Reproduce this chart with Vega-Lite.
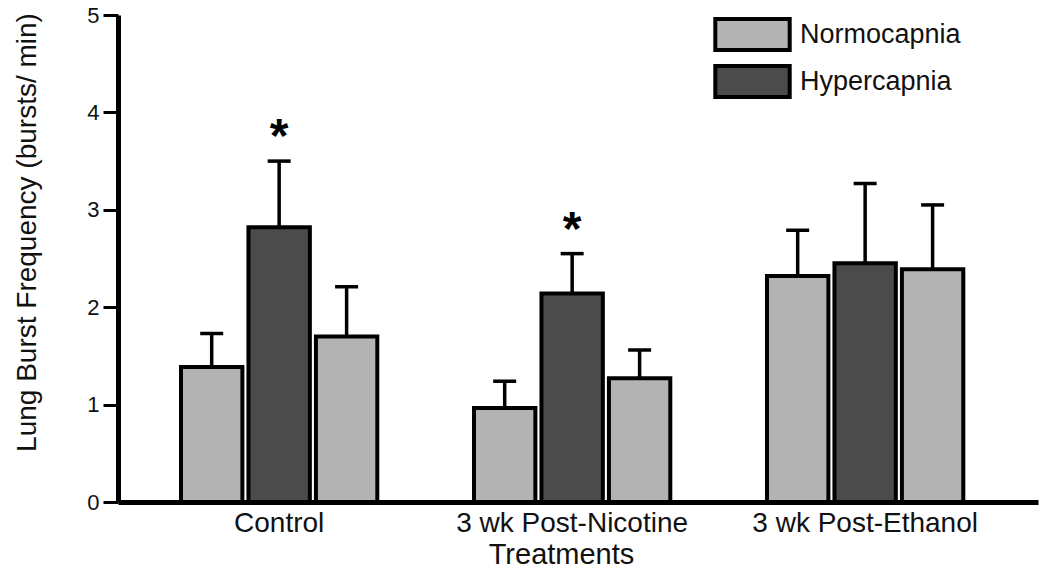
{
  "$schema": "https://vega.github.io/schema/vega-lite/v6.json",
  "width": 920,
  "height": 487,
  "autosize": {"type": "none"},
  "padding": {"left": 118, "top": 15, "right": 12, "bottom": 79},
  "background": "white",
  "config": {
    "font": "Liberation Sans",
    "view": {"stroke": null},
    "axis": {"grid": false, "domainColor": "black", "tickColor": "black", "labelColor": "#111", "titleColor": "#111", "labelFont": "Liberation Sans", "titleFont": "Liberation Sans", "titleFontWeight": "normal"}
  },
  "data": {
    "values": [
      {"treatment": "Control", "cond": "N1", "gas": "Normocapnia", "mean": 1.385, "upper": 1.73, "star": ""},
      {"treatment": "Control", "cond": "H", "gas": "Hypercapnia", "mean": 2.82, "upper": 3.50, "star": "*"},
      {"treatment": "Control", "cond": "N2", "gas": "Normocapnia", "mean": 1.70, "upper": 2.21, "star": ""},
      {"treatment": "3 wk Post-Nicotine", "cond": "N1", "gas": "Normocapnia", "mean": 0.965, "upper": 1.24, "star": ""},
      {"treatment": "3 wk Post-Nicotine", "cond": "H", "gas": "Hypercapnia", "mean": 2.14, "upper": 2.55, "star": "*"},
      {"treatment": "3 wk Post-Nicotine", "cond": "N2", "gas": "Normocapnia", "mean": 1.27, "upper": 1.56, "star": ""},
      {"treatment": "3 wk Post-Ethanol", "cond": "N1", "gas": "Normocapnia", "mean": 2.32, "upper": 2.79, "star": ""},
      {"treatment": "3 wk Post-Ethanol", "cond": "H", "gas": "Hypercapnia", "mean": 2.45, "upper": 3.27, "star": ""},
      {"treatment": "3 wk Post-Ethanol", "cond": "N2", "gas": "Normocapnia", "mean": 2.39, "upper": 3.05, "star": ""}
    ]
  },
  "encoding": {
    "x": {
      "field": "treatment", "type": "nominal",
      "sort": ["Control", "3 wk Post-Nicotine", "3 wk Post-Ethanol"],
      "scale": {"paddingInner": 0.33, "paddingOuter": 0.235, "align": 0.4575},
      "axis": {"title": "Treatments", "titleFontSize": 29, "titlePadding": 3, "titleX": 443, "labelAngle": 0, "labelFontSize": 28, "labelPadding": 7, "labelLimit": 0, "ticks": false, "domainWidth": 5}
    },
    "xOffset": {
      "field": "cond", "type": "nominal",
      "sort": ["N1", "H", "N2"],
      "scale": {"paddingInner": 0.09, "paddingOuter": 0}
    }
  },
  "layer": [
    {
      "mark": {"type": "rule", "stroke": "black", "strokeWidth": 3.5},
      "encoding": {
        "y": {"field": "mean", "type": "quantitative"},
        "y2": {"field": "upper"}
      }
    },
    {
      "mark": {"type": "tick", "color": "black", "size": 23, "thickness": 3.5, "opacity": 1},
      "encoding": {
        "y": {"field": "upper", "type": "quantitative"}
      }
    },
    {
      "mark": {"type": "bar", "stroke": "black", "strokeWidth": 4, "opacity": 1},
      "encoding": {
        "y": {
          "field": "mean", "type": "quantitative",
          "scale": {"domain": [0, 5], "nice": false},
          "axis": {"title": "Lung Burst Frequency (bursts/ min)", "titleFontSize": 28, "titlePadding": 45, "titleY": 217, "values": [0, 1, 2, 3, 4, 5], "format": "d", "labelFontSize": 22, "labelPadding": 4, "tickSize": 15, "tickWidth": 3, "domainWidth": 5}
        },
        "fill": {
          "field": "gas", "type": "nominal",
          "scale": {"domain": ["Normocapnia", "Hypercapnia"], "range": ["#b3b3b3", "#4b4b4b"]},
          "legend": {
            "title": null,
            "orient": "none",
            "legendX": 617,
            "legendY": 2,
            "padding": 0,
            "symbolType": "M-2.4,-1H2.4V1H-2.4Z",
            "symbolSize": 961,
            "symbolStrokeColor": "black",
            "symbolStrokeWidth": 4,
            "symbolOpacity": 1,
            "labelFontSize": 27,
            "labelOffset": 30,
            "labelLimit": 0,
            "labelColor": "#111",
            "rowPadding": 0
          }
        }
      }
    },
    {
      "transform": [{"filter": "datum.star != ''"}],
      "mark": {"type": "text", "fontSize": 48, "fontWeight": "bold", "baseline": "alphabetic", "align": "center", "dy": -9, "color": "black"},
      "encoding": {
        "y": {"field": "upper", "type": "quantitative"},
        "text": {"field": "star"}
      }
    }
  ]
}
